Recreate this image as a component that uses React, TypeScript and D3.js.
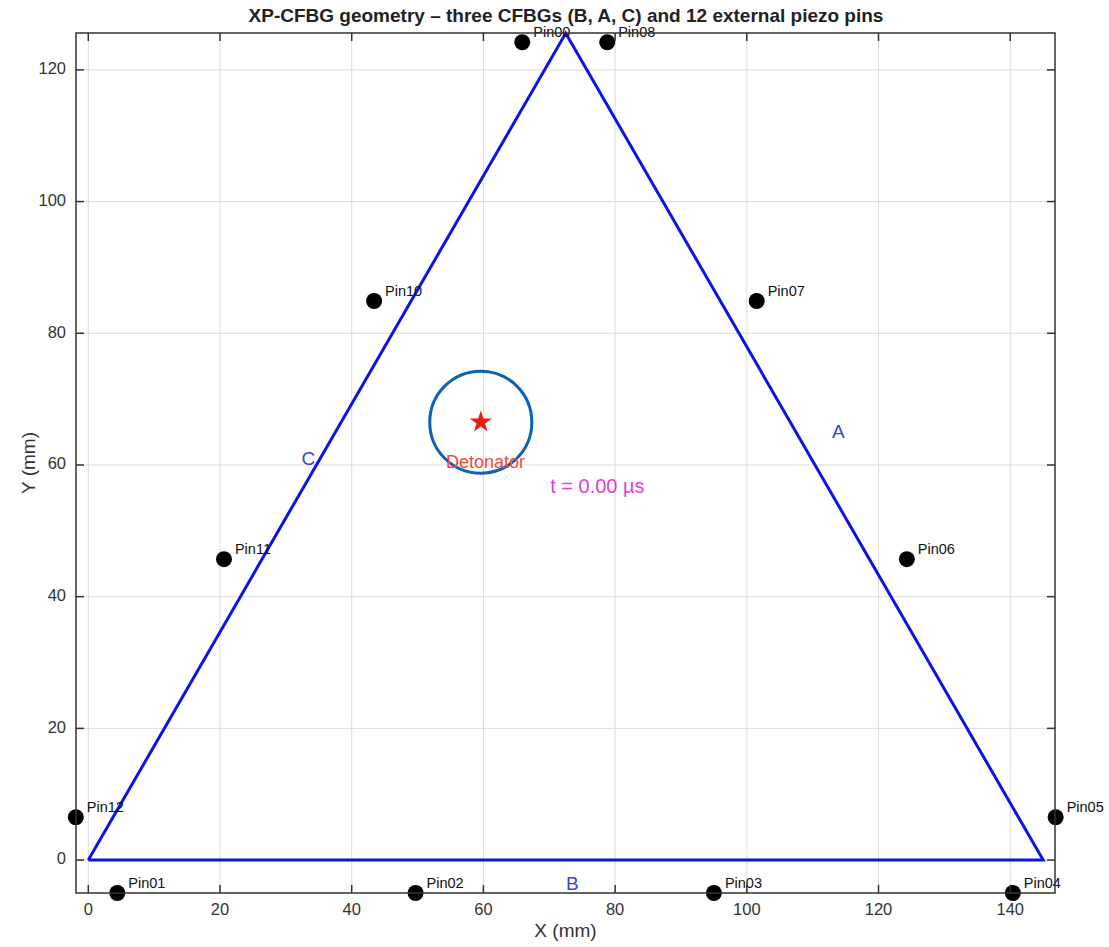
import React from "react";
import * as d3 from "d3";

const pinNames = ["Pin00", "Pin01", "Pin02", "Pin03", "Pin04", "Pin05", "Pin06", "Pin07", "Pin08", "Pin10", "Pin11", "Pin12"];
const pinX = [65.9, 4.4, 49.7, 95.0, 140.4, 146.9, 124.3, 101.5, 78.8, 43.4, 20.6, -1.9];
const pinY = [124.2, -5.0, -5.0, -5.0, -5.0, 6.5, 45.7, 84.9, 124.2, 84.9, 45.7, 6.5];

const triX = [0, 145, 72.5, 0];
const triY = [0, 0, 125.57, 0];

const sideNames = ["A", "B", "C"];
const sideX = [113.9, 73.5, 33.4];
const sideY = [64.9, -3.8, 60.8];

const detonator = { x: 59.6, y: 66.5, r: 7.75 };
const timeLabel = "t = 0.00 µs";

const xTicks = [0, 20, 40, 60, 80, 100, 120, 140];
const yTicks = [0, 20, 40, 60, 80, 100, 120];

const W = 1109, H = 947;
const L = 76, R = 1055, T = 33, B = 893;

export default function App() {
  const x = d3.scaleLinear().domain([-1.87, 146.8]).range([L, R]);
  const y = d3.scaleLinear().domain([-5, 125.6]).range([B, T]);
  const line = d3.line<number>().x((_, i) => x(triX[i])).y((_, i) => y(triY[i]));
  const font = "'Liberation Sans', Arial, sans-serif";
  const starPath = d3.symbol(d3.symbolStar, 150)() as string;
  const tick = 8;
  return (
    <svg width={W} height={H} style={{ position: "absolute", left: 0, top: 0, background: "#fff" }} fontFamily={font}>
      <rect x={0} y={0} width={W} height={H} fill="#fff" />
      {xTicks.map(t => (
        <line key={"gx" + t} x1={x(t)} x2={x(t)} y1={T} y2={B} stroke="#dcdcdc" strokeWidth={1} />
      ))}
      {yTicks.map(t => (
        <line key={"gy" + t} x1={L} x2={R} y1={y(t)} y2={y(t)} stroke="#dcdcdc" strokeWidth={1} />
      ))}
      <path d={line(triX) as string} fill="none" stroke="#0a14e6" strokeWidth={3} strokeLinejoin="miter" />
      <circle cx={x(detonator.x)} cy={y(detonator.y)} r={x(detonator.r) - x(0)} fill="none" stroke="#0b63b8" strokeWidth={3} />
      <path d={starPath} transform={`translate(${x(detonator.x)},${y(detonator.y)})`} fill="#f21b0c" />
      <text x={485.5} y={y(60.2)} fontSize={18} fill="#ee4a3a" textAnchor="middle" dominantBaseline="middle">Detonator</text>
      <text x={x(77.3)} y={y(56.6)} fontSize={20} fill="#dd3fdc" textAnchor="middle" dominantBaseline="middle">{timeLabel}</text>
      {sideNames.map((s, i) => (
        <text key={s} x={x(sideX[i])} y={y(sideY[i])} fontSize={19} fill="#3b45d0" textAnchor="middle" dominantBaseline="middle">{s}</text>
      ))}
      {pinNames.map((p, i) => (
        <g key={p}>
          <circle cx={x(pinX[i])} cy={y(pinY[i])} r={8} fill="#000" />
          <text x={x(pinX[i]) + 11} y={y(pinY[i]) - 9} fontSize={14.5} fill="#111" dominantBaseline="middle">{p}</text>
        </g>
      ))}
      <rect x={L} y={T} width={R - L} height={B - T} fill="none" stroke="#333" strokeWidth={1.5} />
      {xTicks.map(t => (
        <g key={"tx" + t}>
          <line x1={x(t)} x2={x(t)} y1={B} y2={B - tick} stroke="#333" strokeWidth={1.5} />
          <line x1={x(t)} x2={x(t)} y1={T} y2={T + tick} stroke="#333" strokeWidth={1.5} />
          <text x={x(t)} y={B + 18} fontSize={16.5} fill="#333" textAnchor="middle" dominantBaseline="middle">{t}</text>
        </g>
      ))}
      {yTicks.map(t => (
        <g key={"ty" + t}>
          <line x1={L} x2={L + tick} y1={y(t)} y2={y(t)} stroke="#333" strokeWidth={1.5} />
          <line x1={R} x2={R - tick} y1={y(t)} y2={y(t)} stroke="#333" strokeWidth={1.5} />
          <text x={L - 10} y={y(t)} fontSize={16.5} fill="#333" textAnchor="end" dominantBaseline="middle">{t}</text>
        </g>
      ))}
      <text x={(L + R) / 2} y={932} fontSize={19} fill="#333" textAnchor="middle" dominantBaseline="middle">X (mm)</text>
      <text transform={`translate(30,${(T + B) / 2}) rotate(-90)`} fontSize={19} fill="#333" textAnchor="middle" dominantBaseline="middle">Y (mm)</text>
      <text x={566} y={17} fontSize={19} fontWeight="bold" fill="#222" textAnchor="middle" dominantBaseline="middle">XP-CFBG geometry – three CFBGs (B, A, C) and 12 external piezo pins</text>
    </svg>
  );
}
